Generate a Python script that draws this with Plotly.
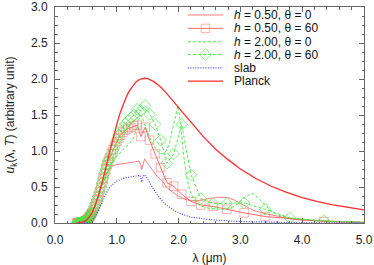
import plotly.graph_objects as go

# ---------------- data ----------------
planck_lam = [0.35, 0.40, 0.45, 0.50, 0.55, 0.60, 0.65, 0.70, 0.75, 0.80, 0.85, 0.90, 0.95, 1.00,
              1.05, 1.10, 1.15, 1.20, 1.25, 1.30, 1.35, 1.40, 1.45, 1.50, 1.60, 1.70, 1.80, 1.90,
              2.00, 2.20, 2.40, 2.60, 2.80, 3.00, 3.25, 3.50, 3.75, 4.00, 4.25, 4.50, 4.75, 5.00]
planck_val = [0.0, 0.003, 0.011, 0.033, 0.076, 0.146, 0.245, 0.373, 0.525, 0.693, 0.869, 1.044, 1.213, 1.373,
              1.52, 1.640, 1.744, 1.832, 1.900, 1.950, 1.984, 2.003, 2.010, 2.004, 1.963, 1.895, 1.807, 1.711,
              1.603, 1.400, 1.199, 1.024, 0.880, 0.751, 0.618, 0.510, 0.424, 0.354, 0.297, 0.251, 0.213, 0.182]

# h = 0.50, theta = 0 (thin line)
h05t0_lam = [0.35, 0.45, 0.50, 0.55, 0.60, 0.65, 0.70, 0.75, 0.80, 0.85, 0.90, 0.95, 1.00, 1.10, 1.20, 1.30,
             1.36, 1.39, 1.40, 1.42, 1.45, 1.48, 1.55, 1.65, 1.75, 1.80, 1.90, 2.00, 2.10, 2.20, 2.30, 2.40,
             2.50, 2.60, 2.70, 2.80, 2.90, 3.00, 3.10, 3.20, 3.40, 3.60, 3.80, 4.00, 4.50, 5.00]
h05t0_val = [0.0, 0.011, 0.033, 0.076, 0.14, 0.24, 0.36, 0.50, 0.62, 0.71, 0.77, 0.80, 0.81, 0.82, 0.83, 0.85,
             0.86, 0.80, 0.74, 0.82, 0.89, 0.85, 0.76, 0.65, 0.57, 0.50, 0.43, 0.37, 0.33, 0.31, 0.31, 0.32,
             0.34, 0.355, 0.36, 0.35, 0.32, 0.27, 0.22, 0.18, 0.13, 0.09, 0.06, 0.04, 0.02, 0.01]

# h = 0.50, theta = 60 (line + squares)
h05t60_lam = [0.35, 0.36, 0.37, 0.38, 0.39, 0.40, 0.41, 0.42, 0.43, 0.44, 0.45, 0.46, 0.47, 0.48, 0.49, 0.50,
              0.51, 0.52, 0.53, 0.54, 0.55, 0.56, 0.57, 0.58, 0.59, 0.60, 0.62, 0.64, 0.66, 0.68, 0.70, 0.72,
              0.74, 0.76, 0.78, 0.80, 0.82, 0.84, 0.86, 0.88, 0.91, 0.94, 0.97, 1.00, 1.03, 1.06, 1.10, 1.14,
              1.18, 1.23, 1.28, 1.33, 1.39, 1.46, 1.53, 1.62, 1.71, 1.81, 1.92, 2.05, 2.20, 2.36, 2.56, 2.78,
              3.06, 3.40, 4.35, 4.70, 5.00]
h05t60_val = [0.0, 0.0, 0.0, 0.0, 0.001, 0.002, 0.003, 0.004, 0.006, 0.008, 0.011, 0.014, 0.018, 0.022, 0.027, 0.033,
              0.04, 0.047, 0.056, 0.066, 0.076, 0.088, 0.10, 0.115, 0.13, 0.146, 0.18, 0.225, 0.27, 0.32, 0.37, 0.43,
              0.49, 0.555, 0.62, 0.685, 0.75, 0.81, 0.86, 0.90, 0.96, 1.02, 1.08, 1.13, 1.18, 1.22, 1.26, 1.29,
              1.31, 1.33, 1.35, 1.36, 1.20, 1.33, 1.15, 0.96, 0.77, 0.56, 0.51, 0.40, 0.30, 0.25, 0.23, 0.19,
              0.14, 0.09, 0.02, 0.01, 0.005]

# h = 2.00, theta = 0 (dashed line)
h2t0_lam = [0.35, 0.45, 0.50, 0.55, 0.60, 0.65, 0.70, 0.75, 0.80, 0.85, 0.90, 0.95, 1.00, 1.10, 1.20, 1.25,
            1.30, 1.36, 1.39, 1.42, 1.46, 1.50, 1.55, 1.60, 1.65, 1.70, 1.75, 1.80, 1.85, 1.90, 1.95, 1.99,
            2.03, 2.08, 2.13, 2.18, 2.25, 2.35, 2.50, 2.70, 2.85, 2.95, 3.05, 3.15, 3.20, 3.30, 3.40, 3.50,
            3.60, 3.80, 4.00, 4.50, 5.00]
h2t0_val = [0.0, 0.011, 0.033, 0.076, 0.14, 0.24, 0.36, 0.50, 0.63, 0.74, 0.82, 0.88, 0.92, 1.02, 1.10, 1.15,
            1.25, 1.45, 1.50, 1.45, 1.35, 1.25, 1.15, 1.08, 1.00, 0.97, 0.96, 1.00, 1.10, 1.30, 1.50, 1.63,
            1.40, 0.95, 0.65, 0.45, 0.32, 0.24, 0.20, 0.19, 0.21, 0.26, 0.34, 0.40, 0.41, 0.34, 0.25, 0.16,
            0.11, 0.07, 0.05, 0.02, 0.01]

# h = 2.00, theta = 60 (dashed line + diamonds)
h2t60_lam = [0.35, 0.36, 0.37, 0.38, 0.39, 0.40, 0.41, 0.42, 0.43, 0.44, 0.45, 0.46, 0.47, 0.48, 0.49, 0.50,
             0.51, 0.52, 0.53, 0.54, 0.55, 0.56, 0.57, 0.58, 0.59, 0.60, 0.62, 0.64, 0.66, 0.68, 0.70, 0.72,
             0.74, 0.76, 0.78, 0.80, 0.82, 0.84, 0.86, 0.88, 0.91, 0.94, 0.97, 1.00, 1.03, 1.06, 1.10, 1.14,
             1.18, 1.23, 1.28, 1.33, 1.39, 1.46, 1.53, 1.62, 1.71, 1.81, 1.92, 2.05, 2.20, 2.36, 2.56, 2.78,
             3.06, 3.40, 3.80, 4.35, 4.70, 5.00]
h2t60_val = [0.0, 0.0, 0.0, 0.0, 0.001, 0.002, 0.003, 0.004, 0.006, 0.008, 0.011, 0.014, 0.018, 0.022, 0.027, 0.033,
             0.04, 0.047, 0.056, 0.066, 0.076, 0.088, 0.10, 0.115, 0.13, 0.146, 0.18, 0.225, 0.27, 0.32, 0.37, 0.43,
             0.49, 0.555, 0.62, 0.685, 0.75, 0.81, 0.86, 0.88, 0.95, 1.02, 1.09, 1.16, 1.22, 1.27, 1.33, 1.38,
             1.42, 1.46, 1.50, 1.58, 1.56, 1.63, 1.51, 1.37, 1.15, 0.83, 0.96, 1.37, 0.67, 0.34, 0.27, 0.27,
             0.28, 0.19, 0.07, 0.03, 0.015, 0.01]

# slab (dotted)
slab_lam = [0.35, 0.50, 0.55, 0.60, 0.65, 0.70, 0.75, 0.80, 0.85, 0.90, 0.95, 1.00, 1.10, 1.20, 1.30, 1.38,
            1.40, 1.42, 1.45, 1.50, 1.55, 1.60, 1.70, 1.80, 1.90, 2.00, 2.20, 2.40, 2.60, 3.00, 3.50, 4.00, 5.00]
slab_val = [0.0, 0.0, 0.01, 0.04, 0.09, 0.17, 0.27, 0.37, 0.45, 0.51, 0.55, 0.58, 0.62, 0.64, 0.65, 0.66,
            0.57, 0.64, 0.67, 0.61, 0.53, 0.46, 0.34, 0.25, 0.19, 0.14, 0.08, 0.055, 0.04, 0.02, 0.01, 0.005, 0.0]

x_ticks = [0, 1, 2, 3, 4, 5]
y_ticks = [0, 0.5, 1.0, 1.5, 2.0, 2.5, 3.0]

legend_labels = ["<i>h</i> = 0.50, θ = 0", "<i>h</i> = 0.50, θ = 60", "<i>h</i> = 2.00, θ = 0",
                 "<i>h</i> = 2.00, θ = 60", "slab", "Planck"]

# ---------------- styles ----------------
C_H05T0 = "rgba(255,110,110,0.9)"
C_H05T60 = "rgba(255,80,80,0.85)"
C_SQ = "rgba(255,110,110,0.75)"
C_GREEN = "rgba(60,235,60,0.9)"
C_DIAM = "rgba(60,235,60,0.9)"
C_SLAB = "rgb(70,70,255)"
C_PLANCK = "rgb(255,45,45)"
FONT = "Liberation Sans, Arial, Helvetica, sans-serif"

def msizes(lams, s):
    return [0 if l > 4.5 else s for l in lams]

styles = [
    dict(mode="lines", line=dict(color=C_H05T0, width=1)),
    dict(mode="lines+markers", line=dict(color=C_H05T60, width=1),
         marker=dict(symbol="square-open", color=C_SQ, line=dict(width=1, color=C_SQ))),
    dict(mode="lines", line=dict(color=C_GREEN, width=1, dash="3px,2px")),
    dict(mode="lines+markers", line=dict(color=C_GREEN, width=1, dash="3px,2px"),
         marker=dict(symbol="diamond-open", color=C_DIAM, line=dict(width=1, color=C_DIAM))),
    dict(mode="lines", line=dict(color=C_SLAB, width=1.2, dash="1px,1.5px")),
    dict(mode="lines", line=dict(color=C_PLANCK, width=1.3)),
]

fig = go.Figure()

series = [(h05t0_lam, h05t0_val), (h05t60_lam, h05t60_val), (h2t0_lam, h2t0_val),
          (h2t60_lam, h2t60_val), (slab_lam, slab_val), (planck_lam, planck_val)]

for i, ((lx, ly), st) in enumerate(zip(series, styles)):
    st = dict(st)
    if "marker" in st:
        mk = dict(st["marker"])
        mk["size"] = msizes(lx, 8.5 if i == 1 else 9)
        st["marker"] = mk
    fig.add_trace(go.Scatter(x=lx, y=ly, showlegend=False, hoverinfo="skip", **st))

# ---------------- hand-made legend (on an overlay 0..1 axis pair) ----------------
leg_y = [0.963, 0.901, 0.839, 0.780, 0.718, 0.657]
leg_x0, leg_x1, leg_xt = 0.430, 0.544, 0.575
for i, st in enumerate(styles):
    st = dict(st)
    if "marker" in st:
        mk = dict(st["marker"])
        mk["size"] = [0, 8.5 if i == 1 else 9, 0]
        st["marker"] = mk
    fig.add_trace(go.Scatter(x=[leg_x0, (leg_x0 + leg_x1) / 2, leg_x1], y=[leg_y[i]] * 3,
                             xaxis="x2", yaxis="y2", showlegend=False, hoverinfo="skip", **st))
    fig.add_annotation(x=leg_xt, y=leg_y[i], xref="paper", yref="paper", text=legend_labels[i],
                       showarrow=False, xanchor="left", yanchor="middle", borderpad=0,
                       font=dict(family=FONT, size=12, color="#111"))

AX = "#666"
common = dict(ticks="inside", ticklen=5, tickwidth=1, tickcolor=AX, showline=True, linecolor=AX,
              linewidth=1, mirror="allticks", showgrid=False, zeroline=False, automargin=False,
              tickfont=dict(family=FONT, size=12, color="#222"), tickformat=".1f")

fig.update_layout(
    width=374, height=265,
    margin=dict(l=55, r=10, t=7, b=42),
    paper_bgcolor="white", plot_bgcolor="white",
    font=dict(family=FONT, size=12, color="#222"),
    xaxis=dict(range=[0, 5], tickvals=x_ticks, ticklabelstandoff=6,
               minor=dict(dtick=0.2, ticks="inside", ticklen=2.5, tickcolor=AX),
               title=dict(text="λ (μm)", font=dict(family=FONT, size=12), standoff=12), **common),
    yaxis=dict(range=[0, 3], tickvals=y_ticks, ticklabelstandoff=4,
               minor=dict(dtick=0.125, ticks="inside", ticklen=2.5, tickcolor=AX),
               title=dict(text="<i>u</i><sub>k</sub>(λ, <i>T</i>) (arbitrary unit)",
                          font=dict(family=FONT, size=12), standoff=13), **common),
    xaxis2=dict(range=[0, 1], overlaying="x", visible=False),
    yaxis2=dict(range=[0, 1], overlaying="y", visible=False),
)

fig.write_html("out.html", config={"displayModeBar": False},
               post_script="document.body.style.margin='0px';document.body.style.overflow='hidden';")
